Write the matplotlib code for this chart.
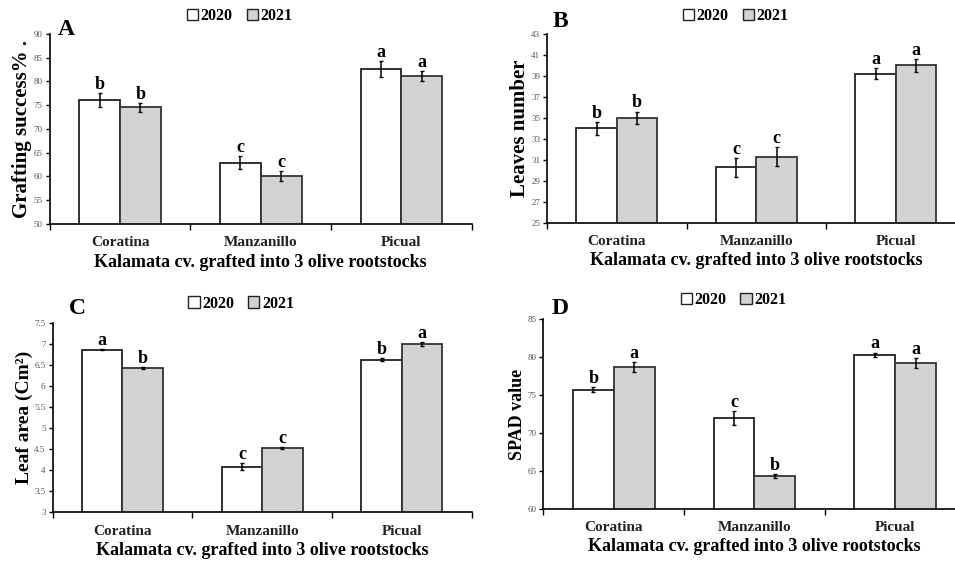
import numpy as np
import matplotlib
matplotlib.use("Agg")
import matplotlib.pyplot as plt
from matplotlib.patches import Patch

plt.rcParams['font.family'] = ['Liberation Serif', 'DejaVu Serif']

# ---------------- dados ----------------
rootstocks = ["Coratina", "Manzanillo", "Picual"]
years = ["2020", "2021"]

graft_2020 = [76.0, 62.9, 82.6]
graft_2021 = [74.5, 60.1, 81.1]
graft_err_2020 = [1.5, 1.4, 1.6]
graft_err_2021 = [1.0, 1.0, 1.0]
graft_let_2020 = ["b", "c", "a"]
graft_let_2021 = ["b", "c", "a"]

leaves_2020 = [34.0, 30.3, 39.2]
leaves_2021 = [35.0, 31.3, 40.0]
leaves_err_2020 = [0.6, 0.9, 0.5]
leaves_err_2021 = [0.6, 0.9, 0.6]
leaves_let_2020 = ["b", "c", "a"]
leaves_let_2021 = ["b", "c", "a"]

area_2020 = [6.87, 4.08, 6.63]
area_2021 = [6.43, 4.53, 7.00]
area_err_2020 = [0.02, 0.08, 0.03]
area_err_2021 = [0.02, 0.02, 0.04]
area_let_2020 = ["a", "c", "b"]
area_let_2021 = ["b", "c", "a"]

spad_2020 = [75.7, 72.0, 80.3]
spad_2021 = [78.7, 64.3, 79.2]
spad_err_2020 = [0.3, 0.9, 0.3]
spad_err_2021 = [0.7, 0.3, 0.7]
spad_let_2020 = ["b", "c", "a"]
spad_let_2021 = ["a", "b", "a"]

xlabel = "Kalamata cv. grafted into 3 olive rootstocks"

# ---------------- figura ----------------
fig = plt.figure(figsize=(9.55, 5.64), dpi=100)

panels = [
    # letra, pos, dados..., ylim, yticks, ylabel, tamanho, posicao da letra, legenda y
    ("A", [0.052, 0.603, 0.442, 0.337], graft_2020, graft_2021, graft_err_2020, graft_err_2021,
     graft_let_2020, graft_let_2021, (50, 90), np.arange(50, 91, 5), "Grafting success% .", 15,
     (0.02, 0.995), 0.975),
    ("B", [0.573, 0.605, 0.438, 0.335], leaves_2020, leaves_2021, leaves_err_2020, leaves_err_2021,
     leaves_let_2020, leaves_let_2021, (25, 43), np.arange(25, 44, 2), "Leaves number", 15,
     (0.012, 1.035), 0.975),
    ("C", [0.055, 0.092, 0.439, 0.335], area_2020, area_2021, area_err_2020, area_err_2021,
     area_let_2020, area_let_2021, (3, 7.5), np.arange(3, 7.6, 0.5), "Leaf area (Cm²)", 14,
     (0.038, 1.05), 0.985),
    ("D", [0.569, 0.098, 0.442, 0.336], spad_2020, spad_2021, spad_err_2020, spad_err_2021,
     spad_let_2020, spad_let_2021, (60, 85), np.arange(60, 86, 5), "SPAD value", 13,
     (0.02, 1.025), 0.985),
]

x = np.arange(len(rootstocks))
w = 0.29
white = "white"
grey = "#d3d3d3"

for (letter, pos, v1, v2, e1, e2, l1, l2, ylim, yticks, ylabel, ysize, lpos, legy) in panels:
    ax = fig.add_axes(pos)
    ax.bar(x - w / 2, v1, w, color=white, edgecolor="#222222", linewidth=1.3, zorder=2)
    ax.bar(x + w / 2, v2, w, color=grey, edgecolor="#333333", linewidth=1.3, zorder=2)
    ax.errorbar(x - w / 2, v1, yerr=e1, fmt="none", ecolor="black", elinewidth=1.1, capsize=1.3, zorder=3)
    ax.errorbar(x + w / 2, v2, yerr=e2, fmt="none", ecolor="black", elinewidth=1.1, capsize=1.3, zorder=3)

    # letras de significancia
    for i in range(len(x)):
        ax.annotate(l1[i], (x[i] - w / 2, v1[i] + e1[i]), xytext=(0, 3), textcoords="offset points",
                    ha="center", va="baseline", fontsize=13, fontweight="bold")
        ax.annotate(l2[i], (x[i] + w / 2, v2[i] + e2[i]), xytext=(0, 3), textcoords="offset points",
                    ha="center", va="baseline", fontsize=13, fontweight="bold")

    ax.set_xlim(-0.5, 2.5)
    ax.set_ylim(*ylim)
    ax.set_yticks(yticks)
    ax.set_yticklabels(["%g" % t for t in yticks], fontsize=6.5, color="#555555")
    ax.set_xticks(x)
    ax.set_xticklabels(rootstocks, fontsize=11, fontweight="bold", color="#222222")
    ax.tick_params(axis="x", length=0, pad=9)
    ax.set_xticks([-0.5, 0.5, 1.5, 2.5], minor=True)
    ax.tick_params(axis="x", which="minor", length=4, direction="out", width=1)
    ax.tick_params(axis="y", length=3, width=1, direction="out", pad=2)
    ax.spines["top"].set_visible(False)
    ax.spines["right"].set_visible(False)
    ax.spines["left"].set_linewidth(1.2)
    ax.spines["bottom"].set_linewidth(1.2)
    ax.set_xlabel(xlabel, fontsize=13, fontweight="bold", labelpad=3)
    ax.set_ylabel(ylabel, fontsize=ysize, fontweight="bold", labelpad=1)

    ax.text(lpos[0], lpos[1], letter, transform=ax.transAxes, fontsize=17, fontweight="bold",
            va="baseline", ha="left")

    handles = [Patch(facecolor=white, edgecolor="#222222", linewidth=1.0),
               Patch(facecolor=grey, edgecolor="#222222", linewidth=1.0)]
    ax.legend(handles, years, loc="lower center", bbox_to_anchor=(0.45, legy), ncol=2, frameon=False,
              handlelength=0.7, handleheight=0.7, handletextpad=0.15, columnspacing=0.9,
              prop={"weight": "bold", "size": 11.5})

plt.savefig("out.png", dpi=100)
